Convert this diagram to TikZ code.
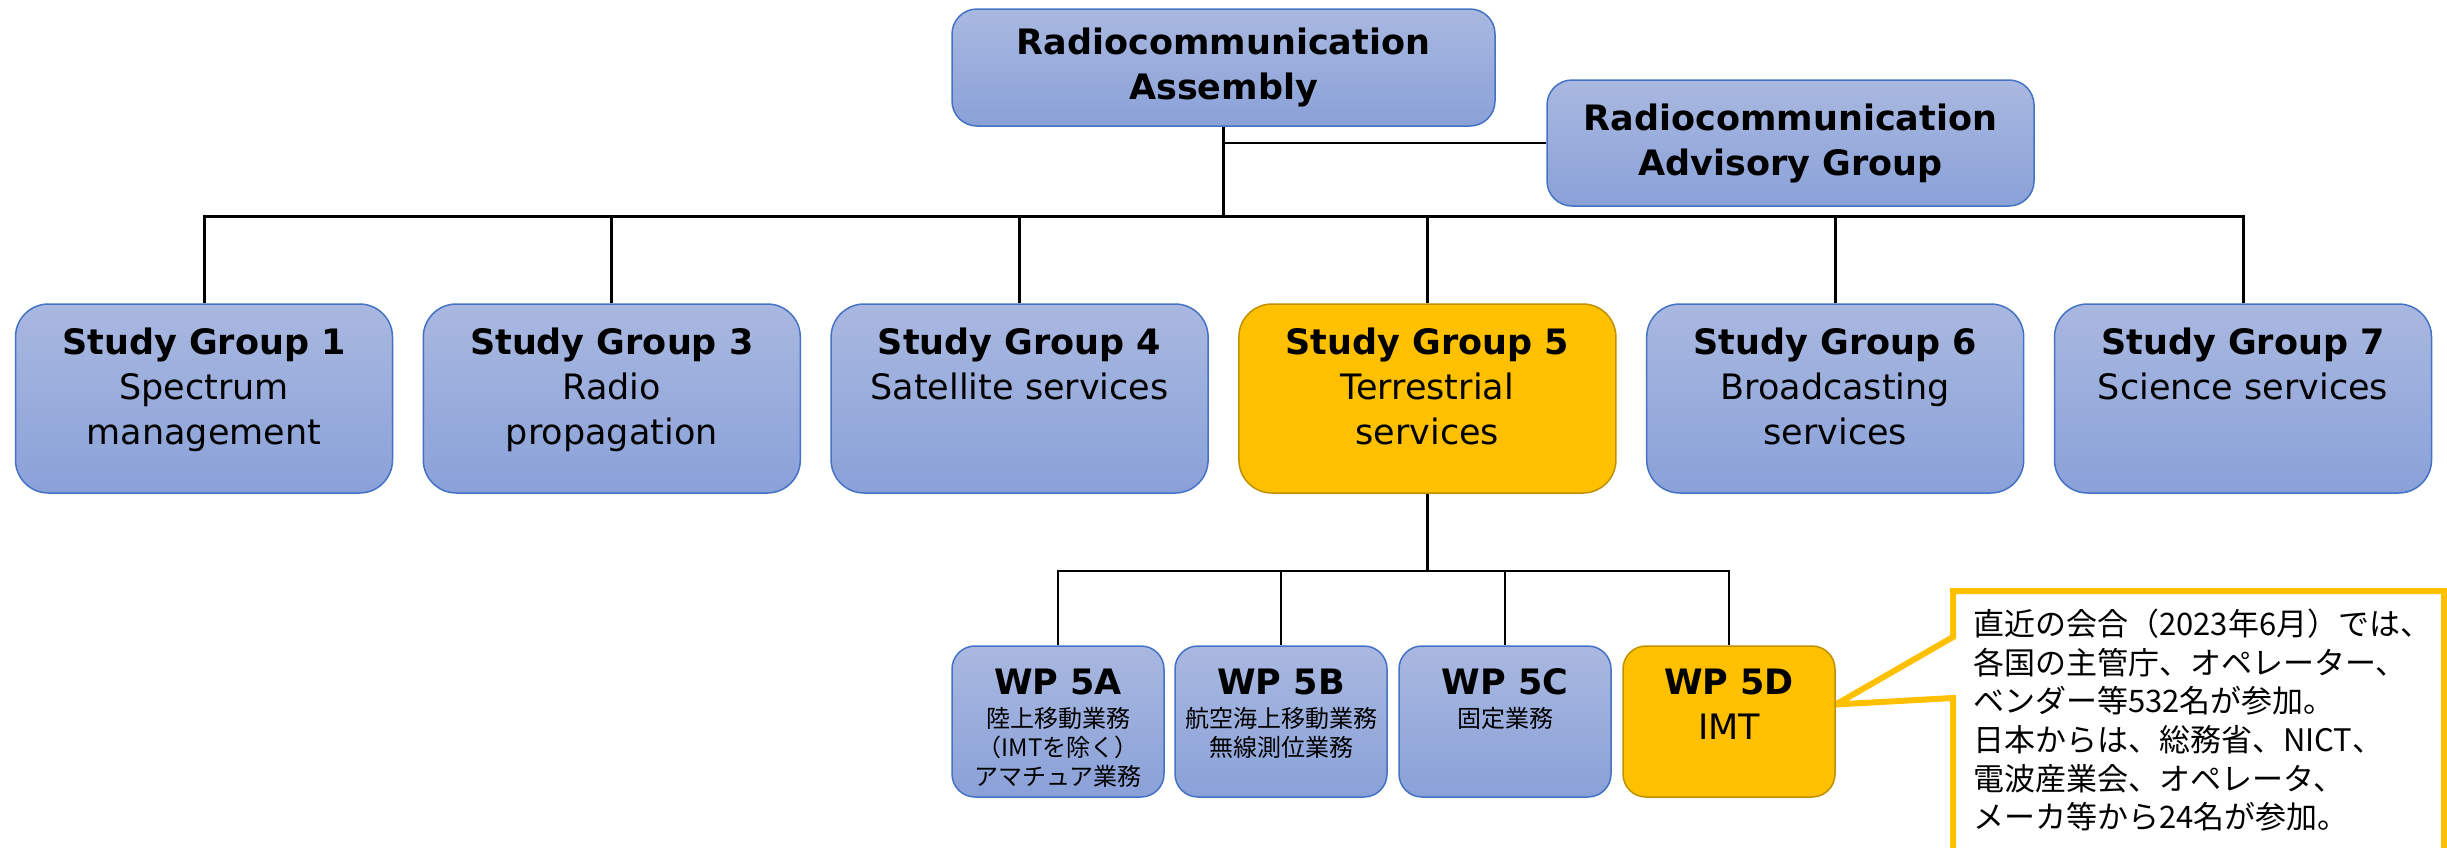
\documentclass[tikz,border=0pt]{standalone}
\usepackage{fontspec}
\setmainfont{DejaVu Sans}
\newfontfamily\jp{Noto Sans CJK JP}
\definecolor{bluetop}{HTML}{A9B8E0}
\definecolor{bluebot}{HTML}{8AA1D8}
\definecolor{blueline}{HTML}{4472C4}
\definecolor{gold}{HTML}{FFC000}
\definecolor{goldline}{HTML}{BF9000}
\pgfdeclarelayer{bg}
\pgfsetlayers{bg,main}
\newcommand{\sgtext}[3]{\parbox[c][152pt][t]{370pt}{\lineskiplimit=-\maxdimen\centering\strut\textbf{#1}\\#2\\#3}}
\newcommand{\wptext}[2]{\parbox[c][118pt][t]{208pt}{\lineskiplimit=-\maxdimen\centering\strut\textbf{#1}\par\vskip 4pt{\jp\fontsize{24}{29}\selectfont #2\par}}}
\begin{document}
\begin{tikzpicture}[x=1pt,y=-1pt,
  boxfont/.style={font=\fontsize{35}{45}\selectfont},
  bluebox/.style={draw=blueline, line width=1.5pt, top color=bluetop, bottom color=bluebot, inner sep=0pt, boxfont},
  goldbox/.style={draw=goldline, line width=1.5pt, fill=gold, inner sep=0pt, boxfont},
  sgsize/.style={minimum width=377pt, minimum height=189pt, rounded corners=33pt},
  wpsize/.style={minimum width=212pt, minimum height=151pt, rounded corners=23pt},
  topbox/.style={bluebox, rounded corners=25pt, align=center, font=\bfseries\fontsize{35}{45}\selectfont},
  conn/.style={line width=3pt, draw=black},
  wpconn/.style={line width=2.5pt, draw=black},
  thinconn/.style={line width=2.2pt, draw=black},
  notebox/.style={line width=6pt, draw=gold, fill=white, line join=miter},
  notetext/.style={font=\jp\fontsize{31}{38.6}\selectfont, align=left, anchor=north west, inner sep=0pt}
]
\useasboundingbox (0,0) rectangle (2447,847);

% top level
\node[topbox, minimum width=543pt, minimum height=117pt] (ra) at (1223.5,67.5) {Radiocommunication\\Assembly};
\node[topbox, minimum width=487pt, minimum height=126pt] (rag) at (1790.5,143) {Radiocommunication\\Advisory Group};

% study groups
\node[bluebox, sgsize] (sg1) at (204,398.5) {\sgtext{Study Group 1}{Spectrum}{management}};
\node[bluebox, sgsize] (sg3) at (611.8,398.5) {\sgtext{Study Group 3}{Radio}{propagation}};
\node[bluebox, sgsize] (sg4) at (1019.6,398.5) {\sgtext{Study Group 4}{Satellite services}{}};
\node[goldbox, sgsize] (sg5) at (1427.4,398.5) {\sgtext{Study Group 5}{Terrestrial}{services}};
\node[bluebox, sgsize] (sg6) at (1835.2,398.5) {\sgtext{Study Group 6}{Broadcasting}{services}};
\node[bluebox, sgsize] (sg7) at (2243,398.5) {\sgtext{Study Group 7}{Science services}{}};

% working parties
\node[bluebox, wpsize] (wp5a) at (1058,721.5) {\wptext{WP 5A}{陸上移動業務\\（IMTを除く）\\アマチュア業務}};
\node[bluebox, wpsize] (wp5b) at (1281,721.5) {\wptext{WP 5B}{航空海上移動業務\\無線測位業務}};
\node[bluebox, wpsize] (wp5c) at (1505,721.5) {\wptext{WP 5C}{固定業務}};
\node[goldbox, wpsize] (wp5d) at (1729,721.5) {\parbox[c][118pt][t]{208pt}{\lineskiplimit=-\maxdimen\centering\strut\textbf{WP 5D}\\IMT}};

% connectors
\coordinate (bus) at (1223.5,216);
\draw[conn] (ra.south) -- (bus);
\draw[thinconn] (ra.south |- rag.west) -- (rag.west);
\draw[conn] (sg1.north) |- (bus) -| (sg7.north);
\foreach \s in {sg3,sg4,sg5,sg6} \draw[conn] (\s.north) -- (\s.north |- bus);
\coordinate (wpbus) at (1427.4,571);
\draw[conn] (sg5.south) -- (wpbus);
\draw[wpconn] (wp5a.north) |- (wpbus) -| (wp5d.north);
\foreach \w in {wp5b,wp5c} \draw[wpconn] (\w.north) -- (\w.north |- wpbus);

% callout
\coordinate (tip) at ([yshift=17pt]wp5d.east);
\begin{pgfonlayer}{bg}
\draw[notebox] (1953,900) -- (1953,698) -- (tip) -- (1953,637) -- (1953,591) -- (2444,591) -- (2444,900);
\end{pgfonlayer}
\node[notetext] (note) at (1973,609) {直近の会合（2023年6月）では、\\各国の主管庁、オペレーター、\\ベンダー等532名が参加。\\日本からは、総務省、NICT、\\電波産業会、オペレータ、\\メーカ等から24名が参加。};
\end{tikzpicture}
\end{document}
